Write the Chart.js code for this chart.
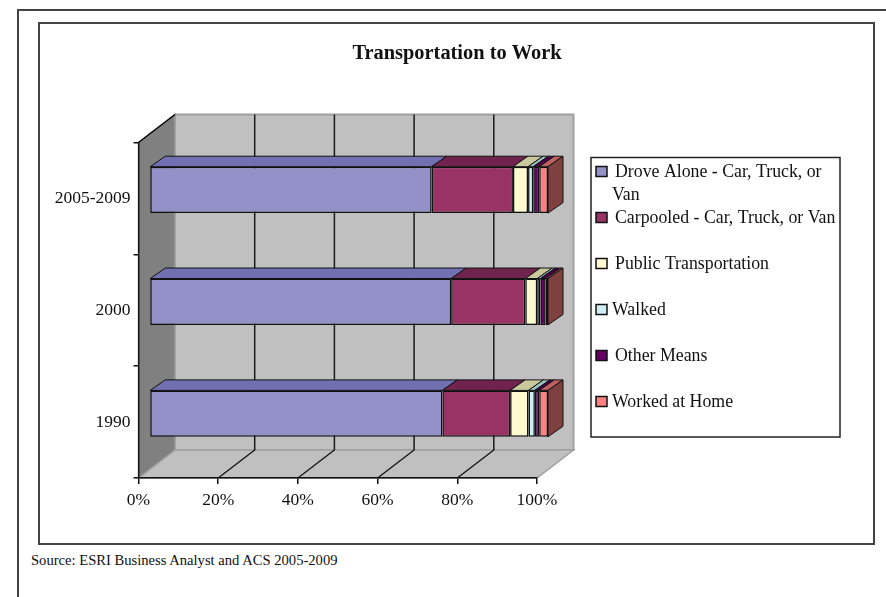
<!DOCTYPE html>
<html><head><meta charset="utf-8">
<style>
html,body{margin:0;padding:0;background:#fff;width:886px;height:597px;overflow:hidden}
#wrap{position:absolute;left:0;top:0;width:886px;height:597px}
.line{position:absolute;background:#444}
#inner{position:absolute;left:38px;top:22px;width:833px;height:519px;border:2px solid #444;box-sizing:content-box}
#src{position:absolute;left:31px;top:552px;font:14.6px "Liberation Serif",serif;color:#111;white-space:nowrap}
canvas{position:absolute;left:0;top:0}
</style></head><body>
<div id="wrap">
<div class="line" style="left:17px;top:9px;width:869px;height:2px"></div>
<div class="line" style="left:17px;top:9px;width:2px;height:588px"></div>
<div id="inner"></div>
<div id="src">Source: ESRI Business Analyst and ACS 2005-2009</div>
<canvas id="c" width="886" height="597"></canvas>
</div>
<script src="https://cdn.jsdelivr.net/npm/chart.js@4/dist/chart.umd.min.js"></script>
<script>
const chartTitle = "Transportation to Work";
const categories = ["2005-2009", "2000", "1990"];
const droveAlone = [70.8, 75.7, 73.5];
const carpooled = [20.4, 18.6, 17.0];
const publicTransportation = [3.8, 3.0, 4.6];
const walked = [1.3, 0.8, 1.6];
const otherMeans = [1.5, 1.3, 1.1];
const workedAtHome = [2.2, 0.6, 2.2];
const seriesNames = ["Drove Alone - Car, Truck, or Van", "Carpooled - Car, Truck, or Van", "Public Transportation", "Walked", "Other Means", "Worked at Home"];
const seriesColors = ["#9491c8", "#993366", "#fff9cf", "#cdeef5", "#660066", "#ff8080"];
const seriesTops = ["#7170b2", "#71234f", "#c9c99c", "#9cc4c4", "#4a004a", "#bf6060"];
const seriesSides = ["#4a4a80", "#4d1a33", "#80805f", "#668080", "#330033", "#7f4040"];
const seriesValues = [droveAlone, carpooled, publicTransportation, walked, otherMeans, workedAtHome];

// 3D look: depth of the wall box, and the plane the bar fronts sit on
const DX = 36.5, DY = -28;
const BX = 11, BY = -8.5;
const TX = 15, TY = -10.5;

function poly(ctx, pts, fill, stroke, w) {
  ctx.beginPath();
  pts.forEach((p, i) => i ? ctx.lineTo(p[0], p[1]) : ctx.moveTo(p[0], p[1]));
  ctx.closePath();
  if (fill) { ctx.fillStyle = fill; ctx.fill(); }
  if (stroke) { ctx.strokeStyle = stroke; ctx.lineWidth = w || 1; ctx.stroke(); }
}

const walls = {
  id: 'walls',
  beforeDraw(chart) {
    const {ctx, chartArea: a, scales: {x}} = chart;
    ctx.save();
    const L = a.left, R = a.right, T = a.top, B = a.bottom;
    poly(ctx, [[L + DX, T + DY], [R + DX, T + DY], [R + DX, B + DY], [L + DX, B + DY]], '#c0c0c0', '#a0a0a0', 2);
    poly(ctx, [[L, B], [L + DX, B + DY], [R + DX, B + DY], [R, B]], '#c0c0c0', '#a0a0a0', 1.5);
    poly(ctx, [[L, T], [L + DX, T + DY], [L + DX, B + DY], [L, B]], '#808080', '#a0a0a0', 1.5);
    ctx.strokeStyle = '#1a1a1a'; ctx.lineWidth = 1.5;
    x.ticks.forEach((t, i) => {
      const px = x.getPixelForTick(i);
      if (i > 0 && i < x.ticks.length - 1) {
        ctx.beginPath();
        ctx.moveTo(px, B); ctx.lineTo(px + DX, B + DY); ctx.lineTo(px + DX, T + DY);
        ctx.stroke();
      }
    });
    ctx.strokeStyle = '#000'; ctx.lineWidth = 1.5;
    ctx.beginPath(); ctx.moveTo(L, T); ctx.lineTo(L + DX, T + DY); ctx.stroke();
    ctx.restore();
  },
  beforeDatasetsDraw(chart) {
    const {ctx} = chart;
    ctx.save();
    // tops and right end of the bars
    chart.data.datasets.forEach((ds, di) => {
      chart.getDatasetMeta(di).data.forEach((bar) => {
        const p = bar.getProps(['x', 'y', 'base', 'height'], true);
        const x0 = p.base + BX, x1 = p.x + BX, y0 = p.y - p.height / 2 + BY;
        poly(ctx, [[x0, y0], [x0 + TX, y0 + TY], [x1 + TX, y0 + TY], [x1, y0]], seriesTops[di], '#111', 1);
      });
    });
    const last = chart.getDatasetMeta(chart.data.datasets.length - 1).data;
    last.forEach((bar) => {
      const p = bar.getProps(['x', 'y', 'height'], true);
      const x1 = p.x + BX, y0 = p.y - p.height / 2 + BY, y1 = p.y + p.height / 2 + BY;
      poly(ctx, [[x1, y0], [x1 + TX, y0 + TY], [x1 + TX, y1 + TY], [x1, y1]], seriesSides[5], '#111', 1);
    });
    ctx.restore();
    // the bar fronts are drawn by the library on the shifted plane
    ctx.save();
    ctx.translate(BX, BY);
  },
  afterDatasetsDraw(chart) {
    chart.ctx.restore();
  },
  afterDraw(chart) {
    const {ctx} = chart;
    ctx.save();
    ctx.fillStyle = '#111';
    ctx.textBaseline = 'middle';
    ctx.textAlign = 'center';
    ctx.font = 'bold 20.4px "Liberation Serif", serif';
    ctx.fillText(chartTitle, 457, 54);

    // legend
    ctx.strokeStyle = '#222'; ctx.lineWidth = 1.5;
    ctx.strokeRect(591, 157.5, 249, 279.5);
    ctx.font = '17.8px "Liberation Serif", serif';
    ctx.textAlign = 'left';
    const rows = [171, 217, 263, 309, 355, 401];
    const textX = [615, 615, 615, 612, 615, 612];
    seriesNames.forEach((name, i) => {
      const y = rows[i];
      ctx.fillStyle = seriesColors[i];
      ctx.fillRect(596, y - 4.5, 11, 10);
      ctx.strokeStyle = '#111'; ctx.lineWidth = 1.5;
      ctx.strokeRect(596, y - 4.5, 11, 10);
      ctx.fillStyle = '#111';
      if (i === 0) {
        const parts = name.split(' ');
        const lastWord = parts.pop();
        ctx.fillText(parts.join(' '), textX[i], y + 1);
        ctx.fillText(lastWord, 612, y + 24);
      } else {
        ctx.fillText(name, textX[i], y + 1);
      }
    });
    ctx.restore();
  }
};

new Chart(document.getElementById('c'), {
  type: 'bar',
  data: {
    labels: categories,
    datasets: seriesNames.map((n, i) => ({
      label: n,
      data: seriesValues[i],
      backgroundColor: seriesColors[i],
      borderColor: '#111',
      borderWidth: 1.5,
      borderSkipped: false,
      categoryPercentage: 1,
      barPercentage: 0.415,
      clip: false
    }))
  },
  options: {
    indexAxis: 'y',
    responsive: false,
    animation: false,
    layout: {padding: {left: 0, top: 142.5, right: 349, bottom: 0}},
    plugins: {legend: {display: false}, title: {display: false}, tooltip: {enabled: false}},
    scales: {
      x: {
        stacked: true, min: 0, max: 100,
        afterFit(s) { s.height = 119; },
        ticks: {stepSize: 20, callback: v => v + '%', color: '#111', maxRotation: 0, padding: 6,
                font: {family: '"Liberation Serif", serif', size: 17.5}},
        grid: {drawOnChartArea: false, drawTicks: true, tickLength: 6, color: '#111', lineWidth: 1.5},
        border: {color: '#111', width: 1.5}
      },
      y: {
        stacked: true,
        afterFit(s) { s.width = 138.5; },
        ticks: {color: '#111', padding: 3, font: {family: '"Liberation Serif", serif', size: 17.5}},
        grid: {drawOnChartArea: false, drawTicks: true, tickLength: 5, color: '#111', offset: true, lineWidth: 1.5},
        border: {color: '#111', width: 1.5}
      }
    }
  },
  plugins: [walls]
});
</script>
</body></html>
